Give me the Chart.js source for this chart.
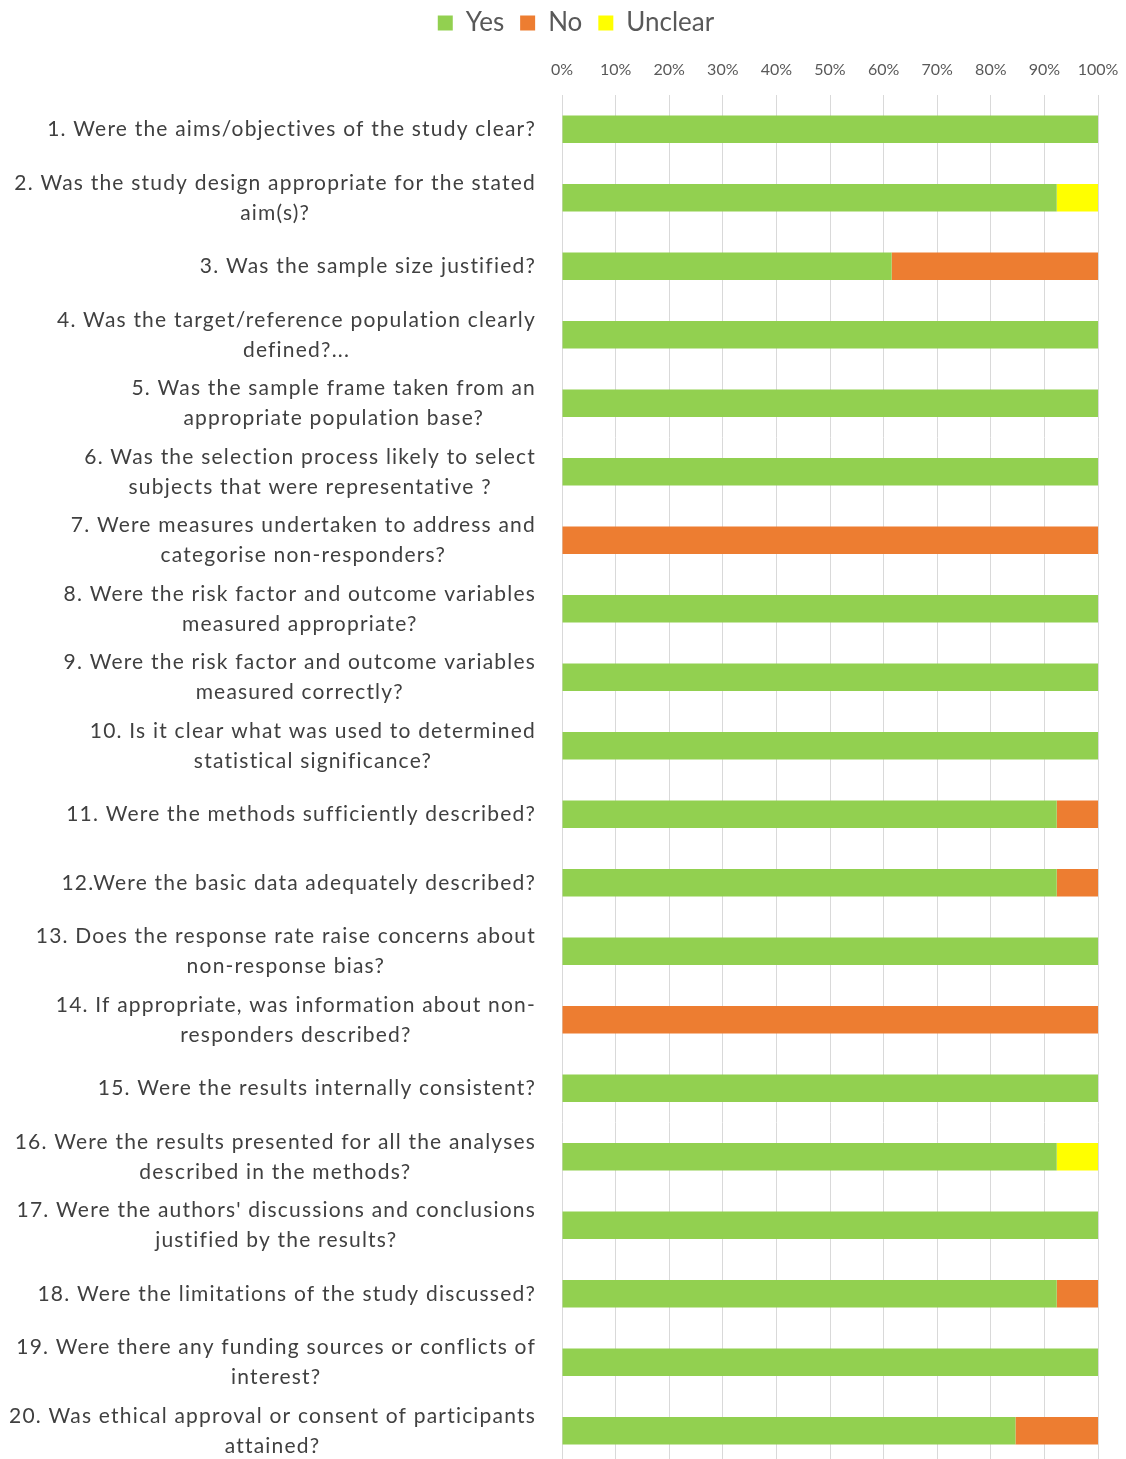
<!DOCTYPE html>
<html>
<head>
<meta charset="utf-8">
<script src="https://cdn.jsdelivr.net/npm/chart.js@4.4.1/dist/chart.umd.min.js"></script>
<style>
  html, body { margin: 0; padding: 0; background: #fff; overflow: hidden; }
  #wrap { width: 1126px; height: 1470px; }
</style>
</head>
<body>
<div id="wrap"><canvas id="qualityChart"></canvas></div>
<script>
/* ---------- Data ---------- */
const questions = [
  ['1. Were the aims/objectives of the study clear?'],
  ['2. Was the study design appropriate for the stated', 'aim(s)?'],
  ['3. Was the sample size justified?'],
  ['4. Was the target/reference population clearly', 'defined?...'],
  ['5. Was the sample frame taken from an', 'appropriate population base?'],
  ['6. Was the selection process likely to select', 'subjects that were representative ?'],
  ['7. Were measures undertaken to address and', 'categorise non-responders?'],
  ['8. Were the risk factor and outcome variables', 'measured appropriate?'],
  ['9. Were the risk factor and outcome variables', 'measured correctly?'],
  ['10. Is it clear what was used to determined', 'statistical significance?'],
  ['11. Were the methods sufficiently described?'],
  ['12.Were the basic data adequately described?'],
  ['13. Does the response rate raise concerns about', 'non-response bias?'],
  ['14. If appropriate, was information about non-', 'responders described?'],
  ['15. Were the results internally consistent?'],
  ['16. Were the results presented for all the analyses', 'described in the methods?'],
  ['17. Were the authors\' discussions and conclusions', 'justified by the results?'],
  ['18. Were the limitations of the study discussed?'],
  ['19. Were there any funding sources or conflicts of', 'interest?'],
  ['20. Was ethical approval or consent of participants', 'attained?']
];

// share of studies per answer, in %
const yesPct     = [100, 92.3, 61.5, 100, 100, 100, 0, 100, 100, 100, 92.3, 92.3, 100, 0, 100, 92.3, 100, 92.3, 100, 84.6];
const noPct      = [0, 0, 38.5, 0, 0, 0, 100, 0, 0, 0, 7.7, 7.7, 0, 100, 0, 0, 0, 7.7, 0, 15.4];
const unclearPct = [0, 7.7, 0, 0, 0, 0, 0, 0, 0, 0, 0, 0, 0, 0, 0, 7.7, 0, 0, 0, 0];

const xTicks = ['0%', '10%', '20%', '30%', '40%', '50%', '60%', '70%', '80%', '90%', '100%'];

const FONT = 'Lato, "Open Sans", sans-serif';
const PAD_LEFT = 54;
const LABEL_W = 508;   // PAD_LEFT + LABEL_W = left edge of the bars

/* ---------- Question labels: block right-aligned, lines centred ---------- */
const questionLabels = {
  id: 'questionLabels',
  afterDraw(chart) {
    const { ctx, scales: { y } } = chart;
    const right = chart.chartArea.left - 26;
    const lineH = 30;
    ctx.save();
    ctx.font = '21px ' + FONT;
    ctx.letterSpacing = '1.2px';
    ctx.fillStyle = '#404040';
    ctx.textAlign = 'center';
    ctx.textBaseline = 'middle';
    questions.forEach((lines, i) => {
      const cy = y.getPixelForValue(i);
      const maxW = Math.max(...lines.map(l => ctx.measureText(l).width));
      const cx = right - maxW / 2;
      lines.forEach((l, j) => {
        ctx.fillText(l, cx, cy + (j - (lines.length - 1) / 2) * lineH);
      });
    });
    ctx.restore();
  }
};

new Chart(document.getElementById('qualityChart'), {
  type: 'bar',
  data: {
    labels: questions,
    datasets: [
      { label: 'Yes',     data: yesPct,     backgroundColor: '#92D050' },
      { label: 'No',      data: noPct,      backgroundColor: '#ED7D31' },
      { label: 'Unclear', data: unclearPct, backgroundColor: '#FFFF00' }
    ]
  },
  options: {
    indexAxis: 'y',
    responsive: true,
    maintainAspectRatio: false,
    animation: false,
    datasets: { bar: { barPercentage: 0.4, categoryPercentage: 1, borderWidth: 0 } },
    layout: { padding: { left: PAD_LEFT, right: 28, top: -6, bottom: 5 } },
    plugins: {
      legend: {
        position: 'top',
        labels: {
          font: { family: FONT, size: 26 },
          color: '#595959',
          boxWidth: 15,
          boxHeight: 15,
          padding: 16
        }
      },
      tooltip: { enabled: false }
    },
    scales: {
      x: {
        position: 'top',
        stacked: true,
        min: 0,
        max: 100,
        afterFit: s => {
          s.height = 49;
          // let the end labels hang over the edges instead of shrinking the plot
          s.paddingLeft = 0;
          s.paddingRight = 0;
        },
        ticks: {
          stepSize: 10,
          padding: 16,
          color: '#595959',
          font: { family: FONT, size: 16 },
          callback: (v, i) => xTicks[i]
        },
        grid: { color: '#d9d9d9', lineWidth: 1, drawTicks: false },
        border: { display: false }
      },
      y: {
        stacked: true,
        afterFit: s => { s.width = LABEL_W; },
        ticks: { display: false },
        grid: { display: false },
        border: { display: false }
      }
    }
  },
  plugins: [questionLabels]
});
</script>
</body>
</html>
